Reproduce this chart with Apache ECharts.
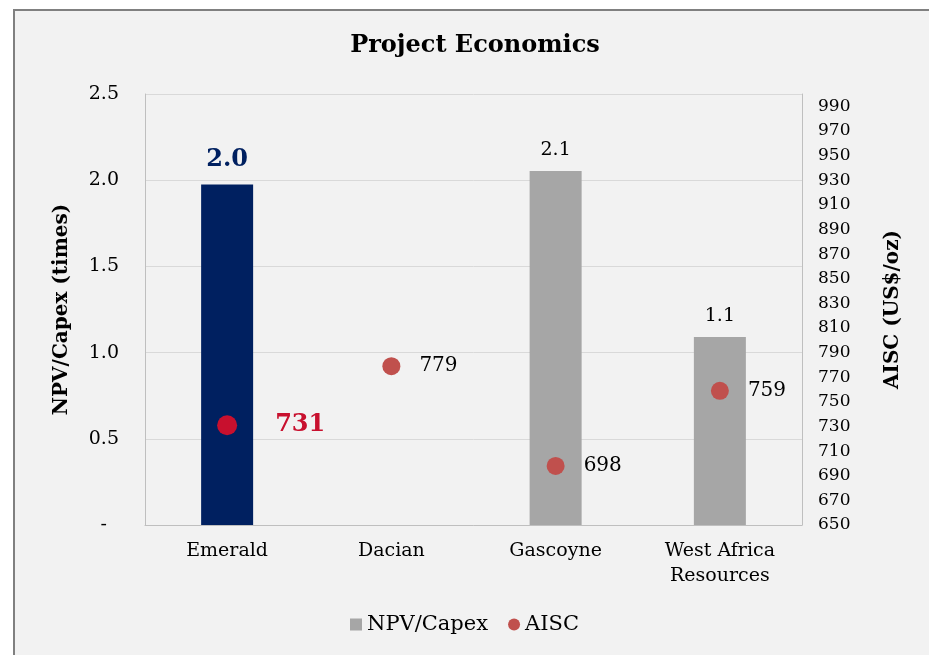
<!DOCTYPE html>
<html>
<head>
<meta charset="utf-8">
<script src="https://cdn.jsdelivr.net/npm/echarts@6/dist/echarts.min.js"></script>
<style>
  html, body { margin: 0; padding: 0; background: #fff; }
  #chart { width: 929px; height: 655px; }
</style>
</head>
<body>
<div id="chart"></div>
<script>
// data
const projects = ["Emerald", "Dacian", "Gascoyne", "West Africa\nResources"];
const npvCapex = [1.975, null, 2.054, 1.091];
const npvLabels = ["2.0", "", "2.1", "1.1"];
const aisc = [731, 779, 698, 759];

const serif = "DejaVu Serif";
const navy = "#002060";
const grey = "#a6a6a6";
const crimson = "#c8102e";
const dotRed = "#c0504d";

const chart = echarts.init(document.getElementById("chart"));

const barData = npvCapex.map((v, i) => {
  const item = { value: v, label: { formatter: npvLabels[i] } };
  if (i === 0) {
    item.itemStyle = { color: navy };
    item.label = {
      formatter: npvLabels[i],
      color: navy,
      fontWeight: "bold",
      fontSize: 24,
      distance: 13,
    };
  }
  return item;
});

const dotData = aisc.map((v, i) => {
  if (i === 0) {
    return {
      value: v,
      symbolSize: 20,
      itemStyle: { color: crimson },
      label: { color: crimson, fontWeight: "bold", fontSize: 24, distance: 38 },
    };
  }
  return { value: v };
});

chart.setOption({
  backgroundColor: "#ffffff",
  animation: false,
  textStyle: { fontFamily: serif },
  graphic: [
    {
      type: "rect",
      z: -10,
      shape: { x: 14, y: 10, width: 1000, height: 1000 },
      style: { fill: "#f2f2f2", stroke: "#808080", lineWidth: 2 },
    },
    {
      type: "text",
      z: 10,
      style: {
        x: 475,
        y: 46,
        text: "Project Economics",
        textAlign: "center",
        textVerticalAlign: "middle",
        font: "bold 24px 'DejaVu Serif'",
        fill: "#000",
      },
    },
  ],
  grid: { left: 145, right: 127, top: 94, bottom: 130, containLabel: false },
  legend: {
    bottom: 15,
    left: "center",
    itemWidth: 12,
    itemHeight: 12,
    itemGap: 20,
    itemTextGap: 5,
    textStyle: { fontFamily: serif, fontSize: 21, color: "#000" },
    data: [
      { name: "NPV/Capex", icon: "rect" },
      { name: "AISC", icon: "circle" },
    ],
  },
  xAxis: {
    type: "category",
    data: projects,
    axisLine: { lineStyle: { color: "#bfbfbf" } },
    axisTick: { show: false },
    axisLabel: {
      fontFamily: serif,
      fontSize: 19,
      color: "#000",
      margin: 14,
      lineHeight: 25,
      interval: 0,
    },
  },
  yAxis: [
    {
      type: "value",
      min: 0,
      max: 2.5,
      interval: 0.5,
      name: "NPV/Capex (times)",
      nameLocation: "middle",
      nameRotate: 90,
      nameGap: 73,
      nameTextStyle: { fontFamily: serif, fontWeight: "bold", fontSize: 20, color: "#000" },
      axisLine: { show: true, lineStyle: { color: "#bfbfbf" } },
      axisTick: { show: false },
      splitLine: { lineStyle: { color: "#d9d9d9", width: 1 } },
      axisLabel: {
        fontFamily: serif,
        fontSize: 19,
        color: "#000",
        margin: 26,
        formatter: (v) => (v === 0 ? "-  " : v.toFixed(1)),
      },
    },
    {
      type: "value",
      min: 650,
      max: 1000,
      interval: 10,
      name: "AISC (US$/oz)",
      nameLocation: "middle",
      nameRotate: 90,
      nameGap: 81,
      nameTextStyle: { fontFamily: serif, fontWeight: "bold", fontSize: 20, color: "#000" },
      axisLine: { show: true, lineStyle: { color: "#bfbfbf" } },
      axisTick: { show: false },
      splitLine: { show: false },
      axisLabel: {
        fontFamily: serif,
        fontSize: 17,
        color: "#000",
        margin: 16,
        formatter: (v) => (v % 20 === 10 && v < 1000 ? String(v) : ""),
      },
    },
  ],
  series: [
    {
      name: "NPV/Capex",
      type: "bar",
      barWidth: 52,
      data: barData,
      itemStyle: { color: grey },
      label: {
        show: true,
        position: "top",
        distance: 11,
        fontFamily: serif,
        fontSize: 19,
        color: "#000",
      },
    },
    {
      name: "AISC",
      type: "scatter",
      yAxisIndex: 1,
      symbolSize: 18,
      data: dotData,
      itemStyle: { color: dotRed, opacity: 1 },
      label: {
        show: true,
        position: "right",
        distance: 19,
        fontFamily: serif,
        fontSize: 20,
        color: "#000",
      },
      z: 5,
    },
  ],
});
</script>
</body>
</html>
